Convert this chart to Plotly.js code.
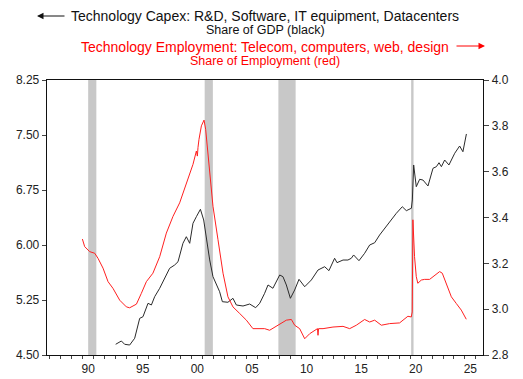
<!DOCTYPE html>
<html>
<head>
<meta charset="utf-8">
<script src="https://cdn.plot.ly/plotly-3.0.1.min.js"></script>
<style>html,body{margin:0;padding:0;background:#fff;}#chart{width:523px;height:379px;}</style>
</head>
<body>
<div id="chart"></div>
<script>
// Technology Capex share of GDP (black, left axis)
const capexYears = [1993.02,1993.54,1993.84,1994.30,1994.76,1995.22,1995.52,1995.98,1996.29,1996.59,1997.05,1997.66,1997.96,1998.42,1998.73,1999.18,1999.49,1999.80,2000.10,2000.41,2000.78,2001.08,2001.33,2001.63,2001.93,2002.24,2002.54,2002.79,2003.30,2003.76,2004.07,2004.68,2005.29,2005.84,2006.21,2006.66,2006.97,2007.42,2008.04,2008.34,2008.65,2009.02,2009.41,2009.81,2010.33,2010.94,2011.55,2012.16,2012.55,2013.07,2013.29,2013.84,2014.29,2014.60,2014.81,2015.30,2015.82,2016.28,2016.74,2017.19,2017.65,2018.27,2018.72,2019.27,2019.64,2020.10,2020.19,2020.31,2020.55,2020.86,2021.16,2021.62,2022.08,2022.39,2022.63,2022.85,2023.15,2023.54,2024.07,2024.52,2024.82,2025.14];
const capexShare = [4.646,4.691,4.646,4.636,4.728,5.000,5.022,5.205,5.182,5.295,5.410,5.591,5.682,5.727,5.772,6.023,6.113,6.023,6.296,6.386,6.487,6.341,6.068,5.796,5.568,5.455,5.363,5.227,5.219,5.273,5.182,5.168,5.195,5.145,5.205,5.341,5.455,5.410,5.591,5.568,5.455,5.273,5.386,5.532,5.431,5.523,5.659,5.704,5.650,5.819,5.759,5.795,5.795,5.819,5.864,5.786,5.887,6.000,6.031,6.136,6.228,6.341,6.432,6.522,6.468,6.501,6.614,7.091,6.795,6.896,6.886,6.805,7.046,7.068,7.122,7.068,7.159,7.091,7.251,7.350,7.272,7.514];

// Technology employment share of employment (red, right axis)
const empYears = [1989.97,1990.18,1990.64,1991.10,1991.40,1991.86,1992.32,1992.77,1993.39,1994.00,1994.30,1994.92,1995.37,1995.83,1996.43,1997.05,1997.66,1998.27,1998.88,1999.49,2000.10,2000.41,2000.50,2000.56,2000.65,2000.87,2001.11,2001.26,2001.63,2001.93,2002.39,2002.85,2003.30,2003.76,2004.38,2004.99,2005.59,2006.21,2006.66,2007.12,2007.58,2008.04,2008.65,2009.11,2009.41,2009.87,2010.33,2010.79,2011.24,2011.50,2011.55,2011.60,2012.01,2012.92,2013.84,2014.45,2015.06,2015.82,2016.28,2016.74,2017.35,2018.11,2019.02,2019.48,2019.78,2020.09,2020.18,2020.24,2020.39,2020.55,2020.69,2021.01,2021.31,2021.77,2022.23,2022.69,2022.93,2023.30,2023.76,2024.21,2024.67,2025.13];
const empShare = [3.306,3.273,3.251,3.244,3.222,3.179,3.120,3.091,3.039,3.010,3.006,3.022,3.069,3.120,3.157,3.229,3.332,3.405,3.464,3.551,3.632,3.690,3.668,3.706,3.741,3.800,3.825,3.785,3.610,3.449,3.303,3.157,3.054,3.010,2.981,2.952,2.915,2.915,2.915,2.908,2.922,2.937,2.952,2.955,2.930,2.915,2.871,2.893,2.908,2.915,2.886,2.915,2.915,2.922,2.925,2.915,2.930,2.955,2.944,2.952,2.930,2.937,2.940,2.959,2.969,2.966,2.988,3.390,3.229,3.142,3.113,3.127,3.130,3.130,3.149,3.164,3.157,3.113,3.054,3.025,2.996,2.956];

// Recessions (decimal years)
const recessionStart = [1990.50, 2001.17, 2007.92, 2020.08];
const recessionEnd   = [1991.25, 2001.92, 2009.50, 2020.30];

// X tick labels (centred mid-year)
const xTickVals = [1990.5,1995.5,2000.5,2005.5,2010.5,2015.5,2020.5,2025.5];
const xTickText = ['90','95','00','05','10','15','20','25'];
const leftTicks = [4.50,5.25,6.00,6.75,7.50,8.25];
const rightTicks = [2.8,3.0,3.2,3.4,3.6,3.8,4.0];

const FONT = 'Liberation Sans, Arial, sans-serif';

const traces = [
  {x: empYears, y: empShare, yaxis: 'y2', type: 'scatter', mode: 'lines',
   line: {color: '#ff2020', width: 1}, hoverinfo: 'skip', showlegend: false},
  {x: capexYears, y: capexShare, yaxis: 'y', type: 'scatter', mode: 'lines',
   line: {color: '#2a2a2a', width: 1}, hoverinfo: 'skip', showlegend: false}
];

const shapes = recessionStart.map((s, i) => ({
  type: 'rect', xref: 'x', yref: 'paper', x0: s, x1: recessionEnd[i], y0: 0, y1: 1,
  fillcolor: '#c8c8c8', line: {width: 0}, layer: 'below'
}));

const H = 275, W = 436;
const py = (pix) => 1 + (80 - pix) / H;
const px = (pix) => (pix - 47) / W;

const annotations = [
  {xref: 'paper', yref: 'paper', x: 0.5, y: py(16), xanchor: 'center', yanchor: 'middle',
   text: 'Technology Capex: R&amp;D, Software, IT equipment, Datacenters', showarrow: false,
   font: {family: FONT, size: 14, color: '#111'}},
  {xref: 'paper', yref: 'paper', x: 0.5, y: py(30), xanchor: 'center', yanchor: 'middle',
   text: 'Share of GDP (black)', showarrow: false,
   font: {family: FONT, size: 12.5, color: '#111'}},
  {xref: 'paper', yref: 'paper', x: 0.5, y: py(47), xanchor: 'center', yanchor: 'middle',
   text: 'Technology Employment: Telecom, computers, web, design', showarrow: false,
   font: {family: FONT, size: 14, color: '#ff0000'}},
  {xref: 'paper', yref: 'paper', x: 0.5, y: py(61), xanchor: 'center', yanchor: 'middle',
   text: 'Share of Employment (red)', showarrow: false,
   font: {family: FONT, size: 12.5, color: '#ff0000'}},
  // arrows
  {xref: 'paper', yref: 'paper', x: px(37), y: py(16), ax: 29, ay: 0, text: '',
   showarrow: true, arrowhead: 2, arrowsize: 1.3, arrowwidth: 1, arrowcolor: '#111'},
  {xref: 'paper', yref: 'paper', x: px(485), y: py(46), ax: -30, ay: 0, text: '',
   showarrow: true, arrowhead: 2, arrowsize: 1.3, arrowwidth: 1, arrowcolor: '#ff0000'}
];

const layout = {
  width: 523, height: 379,
  margin: {l: 47, r: 40, t: 80, b: 24, pad: 0},
  paper_bgcolor: '#fff', plot_bgcolor: '#fff',
  font: {family: FONT, size: 12, color: '#222'},
  showlegend: false,
  xaxis: {
    range: [1986.73, 2026.66], showgrid: false, zeroline: false,
    showline: true, mirror: true, linecolor: '#111', linewidth: 1.3,
    tickmode: 'array', tickvals: xTickVals, ticktext: xTickText, ticks: '',
    ticklabelstandoff: 2,
    minor: {ticks: 'outside', ticklen: 3, tickmode: 'linear', tick0: 1987, dtick: 1, tickcolor: '#444', tickwidth: 1},
    tickfont: {family: FONT, size: 12, color: '#222'}
  },
  yaxis: {
    range: [4.5, 8.25], showgrid: false, zeroline: false,
    showline: true, linecolor: '#111', linewidth: 1.3,
    tickmode: 'array', tickvals: leftTicks, tickformat: '.2f',
    ticks: 'outside', ticklen: 4, tickcolor: '#444',
    tickfont: {family: FONT, size: 12, color: '#222'}
  },
  yaxis2: {
    range: [2.8, 4.0], overlaying: 'y', side: 'right', showgrid: false, zeroline: false,
    showline: true, linecolor: '#111', linewidth: 1.3,
    tickmode: 'array', tickvals: rightTicks, tickformat: '.1f',
    ticks: 'outside', ticklen: 5, tickcolor: '#444',
    tickfont: {family: FONT, size: 12, color: '#222'}
  },
  shapes: shapes,
  annotations: annotations
};

Plotly.newPlot('chart', traces, layout, {staticPlot: true, displayModeBar: false});
</script>
</body>
</html>
